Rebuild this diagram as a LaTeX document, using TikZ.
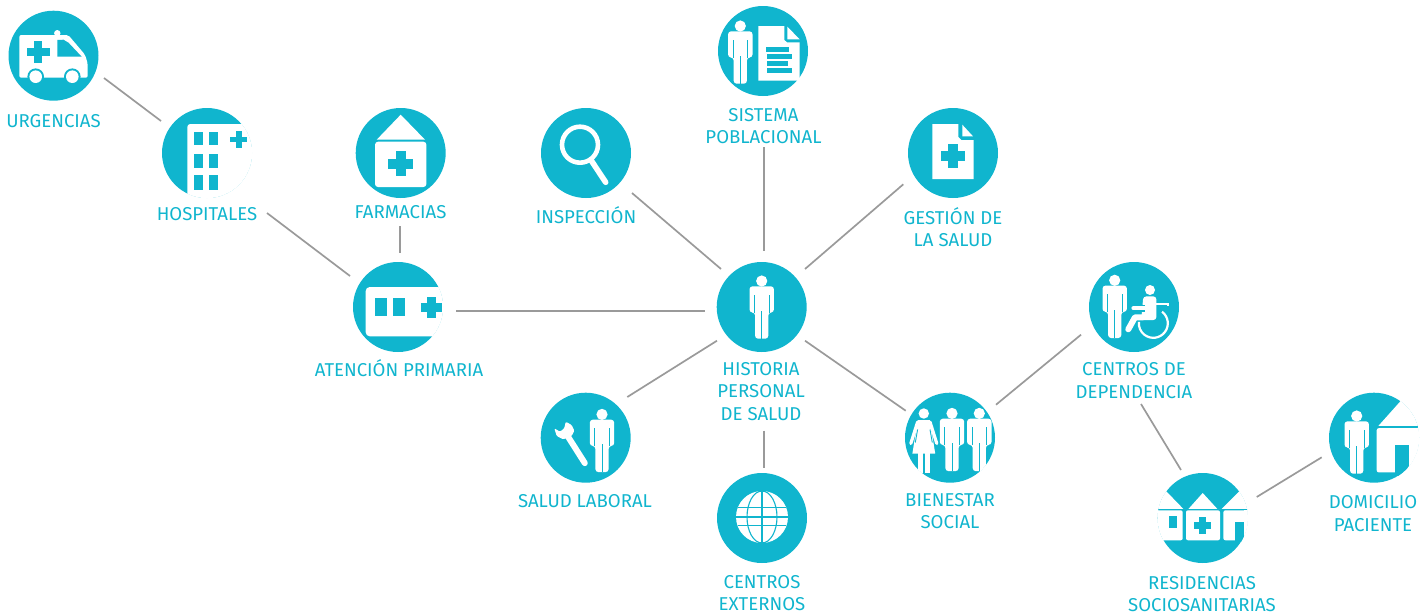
\documentclass[tikz,border=0pt]{standalone}
\usepackage{fontspec}
\setmainfont{Fira Sans}
\usetikzlibrary{calc}
\definecolor{tealc}{HTML}{10B5CE}
\definecolor{linec}{HTML}{9A9A9A}
\newcommand{\crossat}[4]{\fill[tealc] ($(#1,#2)+(-#3,-#4)$) rectangle ($(#1,#2)+(#3,#4)$); \fill[tealc] ($(#1,#2)+(-#4,-#3)$) rectangle ($(#1,#2)+(#4,#3)$);}
\tikzset{
  disc/.style={circle,fill=tealc,minimum size=90pt,inner sep=0pt},
  lab/.style={text=tealc,align=center,inner sep=0pt,font=\fontsize{18.6}{22.3}\selectfont},
  conn/.style={draw=linec,line width=1.7pt},
  person/.pic={
    \fill[white] (0,-26) circle (5.6);
    \fill[white,rounded corners=3pt] (-6.6,31.7) -- (-6.6,5.5) -- (-12.2,5.5) -- (-12.2,-20.7) -- (12.2,-20.7) -- (12.2,5.5) -- (6.6,5.5) -- (6.6,31.7) -- cycle;
    \draw[tealc,line width=0.8pt] (-7.4,-12) -- (-7.4,6) (7.4,-12) -- (7.4,6) (0,4) -- (0,32);
  },
  woman/.pic={
    \fill[white] (0,-26) circle (5.2);
    \draw[white,line width=3.2pt,line cap=round] (-6.2,-17.5) -- (-13,4) (6.2,-17.5) -- (13,4);
    \fill[white] (-6,-19.5) -- (6,-19.5) -- (11.4,14) -- (-11.4,14) -- cycle;
    \draw[tealc,line width=0.9pt] (-6.2,-10) -- (-8.5,3) (6.2,-10) -- (8.5,3);
    \fill[white] (-5.8,13) rectangle (-1,33);
    \fill[white] (1,13) rectangle (5.8,33);
  },
  ambulance/.pic={
    \fill[white] (3.8,-22.5) circle (3.2);
    \fill[white,rounded corners=2pt] (-34.2,22) -- (-34.2,-20.7) -- (14.8,-20.7) -- (31.5,-1) -- (34.2,7.7) -- (34.2,22) -- cycle;
    \fill[tealc] (3.8,-15.7) -- (3.8,1) -- (28.2,1) -- (15,-13) -- (10,-16) -- cycle;
    \crossat{-15.2}{-3.7}{11.3}{4}
    \foreach \xx in {-17.8,18.8} {\fill[tealc] (\xx,21) circle (8.3); \fill[white] (\xx,21) circle (6.3);}
  },
  hospitalico/.pic={
    \begin{scope}
      \clip (0,0) circle (45.2);
      \fill[white,rounded corners=3pt] (-19.7,-29) rectangle (60,60);
    \end{scope}
    \foreach \xa/\xb in {-13/-3.7,2/11.3} \foreach \ya/\yb in {-21/-7.7,0.7/15.3,22.3/37} {\fill[tealc] (\xa,\ya) rectangle (\xb,\yb);}
    \crossat{31.7}{-13.7}{8.3}{2.8}
  },
  pharmacy/.pic={
    \fill[white] (0,-38.3) -- (24.3,-13.3) -- (-24,-13.3) -- cycle;
    \fill[white,rounded corners=3pt] (-25.7,-11.3) rectangle (25.7,34);
    \crossat{0}{10.7}{12.7}{5.2}
  },
  lens/.pic={
    \draw[white,line width=4.6pt] (-6,-8.3) circle (18);
    \draw[white,line width=5.6pt,line cap=round] (4.7,6.7) -- (19.7,29.3);
  },
  clinic/.pic={
    \begin{scope}
      \clip (0,0) circle (45.2);
      \fill[white,rounded corners=4pt] (-32.3,-20) rectangle (60,29.3);
    \end{scope}
    \fill[tealc] (-23.3,-9.3) rectangle (-11.3,9.3);
    \fill[tealc] (-4.7,-9.3) rectangle (7.3,9.3);
    \crossat{33.3}{0.3}{10.7}{4.3}
  },
  docpeople/.pic={
    \pic at (-22.7,1) {person};
    \fill[white] (-4.7,-25) -- (21.3,-25) -- (21.3,-11) -- (24,-8.7) -- (36.7,-8.7) -- (36.7,29.7) -- (-4.7,29.7) -- cycle;
    \fill[white] (24.3,-24.3) -- (24.3,-11.7) -- (36.7,-11.7) -- cycle;
    \fill[tealc] (2.7,-4) rectangle (25.7,1);
    \fill[tealc] (3.7,2.7) rectangle (28.7,8);
    \fill[tealc] (3.7,10) rectangle (24.7,15);
    \fill[tealc] (3.7,17) rectangle (28.7,22);
  },
  docplus/.pic={
    \fill[white] (-20.7,-29) -- (5.3,-29) -- (5.3,-16) -- (8.3,-13) -- (20.7,-13) -- (20.7,26) -- (-20.7,26) -- cycle;
    \fill[white] (9.3,-28.3) -- (9.3,-16.7) -- (20,-16.7) -- cycle;
    \crossat{0}{3}{12}{5.3}
  },
  wrench/.pic={
    \draw[white,line width=6pt,line cap=round] (-20,-4.7) -- (-0.9,25.4);
    \fill[white,rounded corners=1.2pt] (-31.4,-9.4) -- (-25.7,-6) -- (-21.4,-9.4) -- (-20,-16) -- (-14,-12.7) -- (-11.4,-7) -- (-14,-1.7) -- (-22.4,1.6) -- (-29,-1.7) -- cycle;
  },
  globe/.pic={
    \fill[white] (0,-1) circle (26);
    \draw[tealc,line width=1.1pt] (0,-1) ellipse (15 and 26);
    \draw[tealc,line width=1.1pt] (0,-27) -- (0,25) (-26,-1) -- (26,-1) (-24,-10.3) -- (24,-10.3) (-24,7.7) -- (24,7.7);
  },
  chair/.pic={
    \fill[white] (16,-17) circle (5);
    \fill[white,rounded corners=3pt] (9.3,-10.6) -- (22.4,-10.6) -- (22.4,13) -- (7.2,13) -- cycle;
    \draw[white,line width=6pt,line cap=round,line join=round] (9.3,10.3) -- (1,10.3) -- (-5.7,22.3);
    \draw[tealc,line width=6.4pt] (-2,1.3) -- (11,1.3);
    \draw[white,line width=3.8pt,line cap=round] (-0.7,1.3) -- (11,1.3);
    \draw[white,line width=1.7pt] (22,-3) -- (33.7,-3) -- (33.7,-1);
    \draw[white,line width=2.2pt] ($(19.3,16.3)+(-53:14.5)$) arc[start angle=-53,end angle=186,radius=14.5];
  },
  residence/.pic={
    \begin{scope}
      \clip (0,0) circle (45.2);
      \fill[white] (-60,-60) -- (-37,-27.3) -- (-19.3,-9) -- (-60,-9) -- cycle;
      \fill[white] (60,-60) -- (37.3,-27.3) -- (19,-9) -- (60,-9) -- cycle;
      \fill[white] (0,-25) -- (14.7,-9) -- (-14.3,-9) -- cycle;
      \fill[white,rounded corners=2pt] (-60,-7.7) rectangle (-20,22.3);
      \fill[white,rounded corners=2pt] (-16.7,-7.7) rectangle (17.3,22.3);
      \fill[white,rounded corners=2pt] (20.7,-7.7) rectangle (60,22.3);
      \fill[tealc] (32.3,4) rectangle (41.7,24);
      \fill[white] (41.7,-7.7) rectangle (60,60);
      \fill[tealc] (-33.3,-1.7) rectangle (-26,10);
      \fill[tealc] (-45,-9.2) rectangle (45,-7.7);
    \end{scope}
    \crossat{0}{7.3}{8.3}{3.3}
  },
  homecare/.pic={
    \begin{scope}
      \clip (0,0) circle (45.2);
      \fill[white] (4.3,-11.7) -- (26,-36) -- (26,-60) -- (60,-60) -- (60,-11.7) -- cycle;
      \fill[white,rounded corners=2pt] (2.7,-9.5) rectangle (60,34.7);
      \fill[tealc] (21,7.3) rectangle (34.7,38);
      \fill[white] (34.7,-9.5) rectangle (60,60);
      \fill[tealc] (4.3,-11.9) rectangle (45,-10.4);
    \end{scope}
    \pic at (-17.3,4.3) {person};
  }
}
\begin{document}
\begin{tikzpicture}[x=1pt,y=-1pt]
\useasboundingbox (0,0) rectangle (1428,614);
% discs
\node[disc] (urg) at (53.5,55.7) {};
\node[disc] (hos) at (207,153) {};
\node[disc] (far) at (400.7,153) {};
\node[disc] (ins) at (586,153) {};
\node[disc] (ate) at (398,307) {};
\node[disc] (sis) at (763,51) {};
\node[disc] (ges) at (953,153) {};
\node[disc] (his) at (761.7,307) {};
\node[disc] (lab) at (585.7,437.7) {};
\node[disc] (ext) at (762,518) {};
\node[disc] (bie) at (950,437.7) {};
\node[disc] (cen) at (1134,307) {};
\node[disc] (res) at (1202.7,518) {};
\node[disc] (dom) at (1374,437.7) {};
% icons
\pic at (urg) {ambulance};
\pic at (hos) {hospitalico};
\pic at (far) {pharmacy};
\pic at (ins) {lens};
\pic at (ate) {clinic};
\pic at (sis) {docpeople};
\pic at (ges) {docplus};
\pic at (his) {person};
\pic at ($(lab)+(16.3,2.7)$) {person};
\pic at (lab) {wrench};
\pic at (ext) {globe};
\begin{scope}
  \clip (bie) circle (45.2);
  \pic at ($(bie)+(-26.2,1.8)$) {woman};
  \pic at ($(bie)+(2,1.7)$) {person};
  \pic at ($(bie)+(29.3,1.7)$) {person};
\end{scope}
\pic at ($(cen)+(-19.3,-0.7)$) {person};
\pic at (cen) {chair};
\pic at (res) {residence};
\pic at (dom) {homecare};
% labels
\node[lab] (lurg) at (53.5,121) {URGENCIAS};
\node[lab] (lhos) at (207,214) {HOSPITALES};
\node[lab] (lfar) at (400.5,212) {FARMACIAS};
\node[lab] (lins) at (586,215) {INSPECCIÓN};
\node[lab] (lsis) at (763.5,126) {SISTEMA\\POBLACIONAL};
\node[lab] (lges) at (953,227) {GESTIÓN DE\\LA SALUD};
\node[lab] (late) at (399,368) {ATENCIÓN PRIMARIA};
\node[lab] (lhis) at (761,391.5) {HISTORIA\\PERSONAL\\DE SALUD};
\node[lab] (llab) at (585,501) {SALUD LABORAL};
\node[lab] (lext) at (762,593) {CENTROS\\EXTERNOS};
\node[lab] (lbie) at (950,511) {BIENESTAR\\SOCIAL};
\node[lab] (lcen) at (1134,380.5) {CENTROS DE\\DEPENDENCIA};
\node[lab] (lres) at (1202,594) {RESIDENCIAS\\SOCIOSANITARIAS};
\node[lab] (ldom) at (1373,513.5) {DOMICILIO\\PACIENTE};
% connectors
\draw[conn] ($(urg)+(50.5,22.3)$) -- ($(hos)+(-46,-32)$);
\draw[conn] ($(hos)+(60,60)$) -- ($(ate)+(-48,-31)$);
\draw[conn] ($(far)+(-0.7,73)$) -- ($(ate)+(2,-54)$);
\draw[conn] ($(ate)+(58,4)$) -- ($(his)+(-56.7,4)$);
\draw[conn] ($(ins)+(46,40)$) -- ($(his)+(-40.7,-38)$);
\draw[conn] ($(sis)+(1,96)$) -- ($(his)+(2.3,-56)$);
\draw[conn] ($(ges)+(-49.7,31.3)$) -- ($(his)+(43.3,-38)$);
\draw[conn] ($(his)+(-44.7,33.7)$) -- ($(lab)+(41.6,-40.7)$);
\draw[conn] ($(his)+(2.3,123.7)$) -- ($(ext)+(2,-50.3)$);
\draw[conn] ($(his)+(43.3,33.7)$) -- ($(bie)+(-44.3,-27)$);
\draw[conn] ($(bie)+(46,-33)$) -- ($(cen)+(-53,27.7)$);
\draw[conn] ($(cen)+(7,97)$) -- ($(res)+(-21.7,-48)$);
\draw[conn] ($(res)+(54,-21)$) -- ($(dom)+(-52.3,19.6)$);
\end{tikzpicture}
\end{document}
